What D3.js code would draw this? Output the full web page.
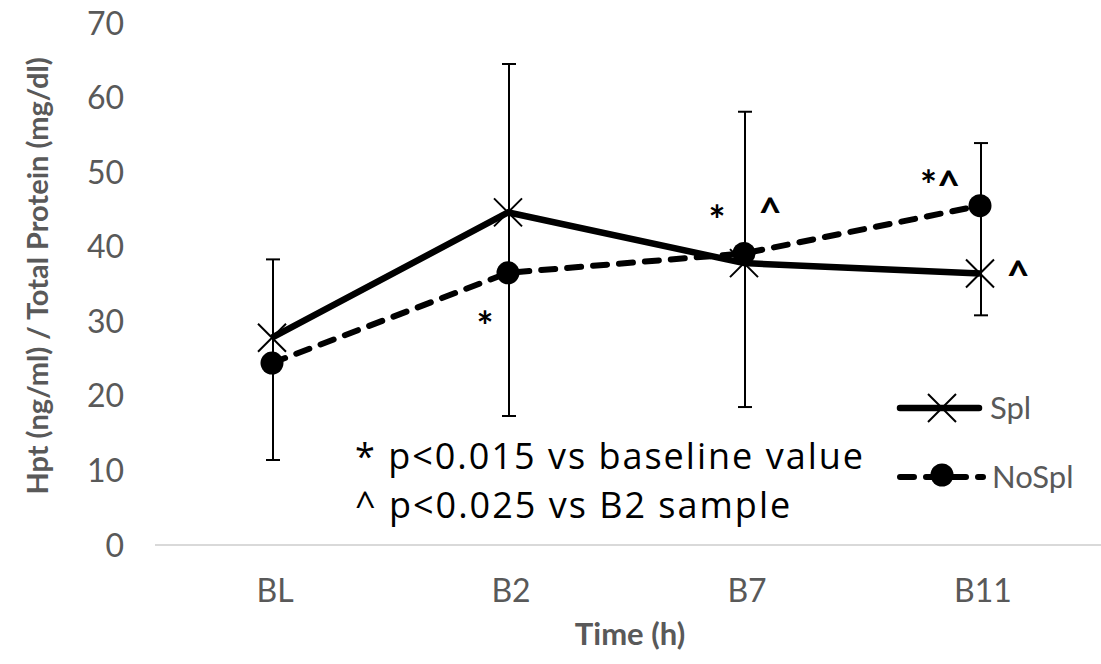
<!DOCTYPE html>
<html>
<head>
<meta charset="utf-8">
<script src="https://cdn.jsdelivr.net/npm/d3@7"></script>
<style>
  body { margin: 0; background: #fff; }
  svg { display: block; font-family: Lato, "Open Sans", sans-serif; }
</style>
</head>
<body>
<svg id="chart"></svg>
<script>
// data
const categories = ["BL", "B2", "B7", "B11"];
const splValues = [27.8, 44.6, 37.8, 36.4];
const noSplValues = [24.4, 36.5, 39.1, 45.5];
const errLow = [11.4, 17.3, 18.5, 30.8];
const errHigh = [38.3, 64.5, 58.1, 53.9];
const yTicks = [0, 10, 20, 30, 40, 50, 60, 70];
// significance marks: [category, value, text, dx]
const marks = [
  ["B2", 27.4, "*", -23],
  ["B7", 41.6, "*", -27],
  ["B7", 42.6, "^", 26],
  ["B11", 46.3, "*^", -40],
  ["B11", 34.2, "^", 38]
];

const width = 1101, height = 664;

const svg = d3.select("#chart")
    .attr("width", width)
    .attr("height", height);

const x = d3.scaleBand()
    .domain(categories)
    .range([154, 1098]);

const y = d3.scaleLinear()
    .domain([0, 70])
    .range([545, 23]);

const cx = d => x(d) + x.bandwidth() / 2;

// y tick labels (no axis line, no gridlines)
svg.append("g")
    .selectAll("text")
    .data(yTicks)
    .join("text")
    .attr("x", 124)
    .attr("y", d => y(d))
    .attr("dy", "0.36em")
    .attr("text-anchor", "end")
    .style("font-size", "32px")
    .style("fill", "#595959")
    .text(d => d);

// x axis line
svg.append("line")
    .attr("x1", 155)
    .attr("x2", width)
    .attr("y1", y(0))
    .attr("y2", y(0))
    .attr("stroke", "#d9d9d9")
    .attr("stroke-width", 2);

svg.append("g")
    .selectAll("text")
    .data(categories)
    .join("text")
    .attr("x", d => cx(d) + 3)
    .attr("y", 602)
    .attr("text-anchor", "middle")
    .style("font-size", "32px")
    .style("fill", "#595959")
    .text(d => d);

// axis titles
svg.append("text")
    .attr("transform", "translate(48,276) rotate(-90)")
    .attr("text-anchor", "middle")
    .style("font-size", "29px")
    .style("font-weight", "bold")
    .style("fill", "#595959")
    .text("Hpt (ng/ml) / Total Protein (mg/dl)");

svg.append("text")
    .attr("x", 630)
    .attr("y", 645)
    .attr("text-anchor", "middle")
    .style("font-size", "31px")
    .style("font-weight", "bold")
    .style("fill", "#595959")
    .text("Time (h)");

// error bars
const eb = svg.append("g").attr("stroke", "#000").attr("stroke-width", 2);
categories.forEach((c, i) => {
    const ex = cx(c) + 1;
    eb.append("line").attr("x1", ex).attr("x2", ex).attr("y1", y(errLow[i])).attr("y2", y(errHigh[i]));
    eb.append("line").attr("x1", ex - 7).attr("x2", ex + 7).attr("y1", y(errLow[i])).attr("y2", y(errLow[i]));
    eb.append("line").attr("x1", ex - 7).attr("x2", ex + 7).attr("y1", y(errHigh[i])).attr("y2", y(errHigh[i]));
});

// lines
const line = d3.line()
    .x((d, i) => cx(categories[i]))
    .y(d => y(d));

svg.append("path")
    .attr("d", line(noSplValues))
    .attr("fill", "none")
    .attr("stroke", "#000")
    .attr("stroke-width", 6)
    .attr("stroke-linecap", "round")
    .attr("stroke-dasharray", "14,12");

svg.append("path")
    .attr("d", line(splValues))
    .attr("fill", "none")
    .attr("stroke", "#000")
    .attr("stroke-width", 6.5);

// markers
function cross(g, px, py) {
    const s = 14;
    g.append("path")
        .attr("d", `M${px - s},${py - s}L${px + s},${py + s}M${px - s},${py + s}L${px + s},${py - s}`)
        .attr("stroke", "#000")
        .attr("stroke-width", 2)
        .attr("fill", "none");
}

const mk = svg.append("g");
noSplValues.forEach((v, i) => {
    mk.append("circle")
        .attr("cx", cx(categories[i]))
        .attr("cy", y(v))
        .attr("r", 11.5)
        .attr("fill", "#000");
});
splValues.forEach((v, i) => cross(mk, cx(categories[i]), y(v)));

// significance marks
svg.append("g")
    .selectAll("text")
    .data(marks)
    .join("text")
    .attr("x", d => cx(d[0]) + d[3])
    .attr("y", d => y(d[1]))
    .attr("text-anchor", "middle")
    .style("font-size", "40px")
    .style("font-weight", "bold")
    .style("fill", "#000")
    .text(d => d[2]);

// footnotes
const foot = svg.append("g")
    .style("font-family", "'Open Sans', sans-serif")
    .style("font-size", "36px")
    .style("letter-spacing", "2px")
    .style("fill", "#000");

foot.append("text")
    .attr("x", 355)
    .attr("y", 469)
    .text("* p<0.015 vs baseline value");

foot.append("text")
    .attr("x", 355)
    .attr("y", 518)
    .text("^ p<0.025 vs B2 sample");

// legend
const legend = svg.append("g");
legend.append("line")
    .attr("x1", 900).attr("x2", 979).attr("y1", 408).attr("y2", 408)
    .attr("stroke", "#000").attr("stroke-width", 6.5).attr("stroke-linecap", "round");
cross(legend, 942, 408);
legend.append("text")
    .attr("x", 990).attr("y", 408).attr("dy", "0.36em")
    .style("font-size", "31px").style("fill", "#595959").text("Spl");

legend.append("line")
    .attr("x1", 900).attr("x2", 983).attr("y1", 477).attr("y2", 477)
    .attr("stroke", "#000").attr("stroke-width", 6).attr("stroke-linecap", "round")
    .attr("stroke-dasharray", "14,12");
legend.append("circle")
    .attr("cx", 942).attr("cy", 475).attr("r", 11.5).attr("fill", "#000");
legend.append("text")
    .attr("x", 992).attr("y", 477).attr("dy", "0.36em")
    .style("font-size", "31px").style("fill", "#595959").text("NoSpl");
</script>
</body>
</html>
